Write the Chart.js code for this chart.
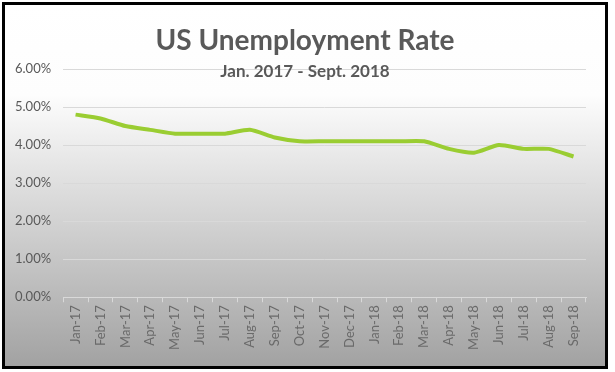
<!DOCTYPE html>
<html>
<head>
<meta charset="utf-8">
<script src="https://cdn.jsdelivr.net/npm/chart.js@4.4.1/dist/chart.umd.min.js"></script>
<style>
  html, body { margin: 0; padding: 0; background: #fff; }
  #wrap { width: 615px; height: 372px; position: relative; }
</style>
</head>
<body>
<div id="wrap"><canvas id="unempChart" width="615" height="372"></canvas></div>
<script>
const months = ["Jan-17", "Feb-17", "Mar-17", "Apr-17", "May-17", "Jun-17", "Jul-17", "Aug-17", "Sep-17", "Oct-17", "Nov-17", "Dec-17",
  "Jan-18", "Feb-18", "Mar-18", "Apr-18", "May-18", "Jun-18", "Jul-18", "Aug-18", "Sep-18"];
const rate = [4.8, 4.7, 4.5, 4.4, 4.3, 4.3, 4.3, 4.4, 4.2, 4.1, 4.1, 4.1, 4.1, 4.1, 4.1, 3.9, 3.8, 4.0, 3.9, 3.9, 3.7];
const yTicks = [0, 1, 2, 3, 4, 5, 6];
const titleText = "US Unemployment Rate";
const subtitleText = "Jan. 2017 - Sept. 2018";

// background gradient + black frame, drawn behind everything
const frame = {
  id: "frame",
  beforeDraw(chart) {
    const c = chart.ctx;
    c.save();
    const g = c.createLinearGradient(0, 4, 0, 366);
    g.addColorStop(0, "#ffffff");
    g.addColorStop(0.25, "#fdfdfd");
    g.addColorStop(1, "#a2a2a2");
    c.fillStyle = g;
    c.fillRect(4, 4, 602, 363);
    c.lineWidth = 3;
    c.strokeStyle = "#000";
    c.strokeRect(3.5, 3.5, 603, 364);
    c.restore();
  },
  afterDraw(chart) {
    const c = chart.ctx;
    c.save();
    c.fillStyle = "#595959";
    c.textAlign = "center";
    c.textBaseline = "middle";
    c.font = "bold 28px Lato";
    c.fillText(titleText, 305, 41);
    c.font = "bold 17px Lato";
    c.fillText(subtitleText, 305, 72);
    c.restore();
  }
};

const ctx = document.getElementById("unempChart").getContext("2d");
const chart = new Chart(ctx, {
  type: "line",
  data: {
    labels: months,
    datasets: [{
      data: rate,
      borderColor: "#9acd32",
      borderWidth: 4,
      pointRadius: 0,
      tension: 0.2,
      fill: false
    }]
  },
  options: {
    responsive: false,
    animation: false,
    layout: { padding: { left: 3, right: 29, top: 69, bottom: 19 } },
    plugins: { legend: { display: false }, title: { display: false }, tooltip: { enabled: false } },
    scales: {
      x: {
        offset: true,
        grid: { display: true, drawOnChartArea: false, offset: true, tickLength: 5, color: "#d9d9d9" },
        border: { color: "#d9d9d9", width: 1 },
        ticks: { color: "#6a6a6a", font: { family: "Lato", size: 13 }, minRotation: 90, maxRotation: 90, padding: 3, autoSkip: false }
      },
      y: {
        min: 0,
        max: 6,
        afterBuildTicks(axis) { axis.ticks = yTicks.map(v => ({ value: v })); },
        grid: { color: "#d9d9d9", drawTicks: false },
        border: { display: false },
        ticks: { color: "#595959", font: { family: "Lato", size: 13 }, padding: 12, callback: v => v.toFixed(2) + "%" }
      }
    }
  },
  plugins: [frame]
});
</script>
</body>
</html>
